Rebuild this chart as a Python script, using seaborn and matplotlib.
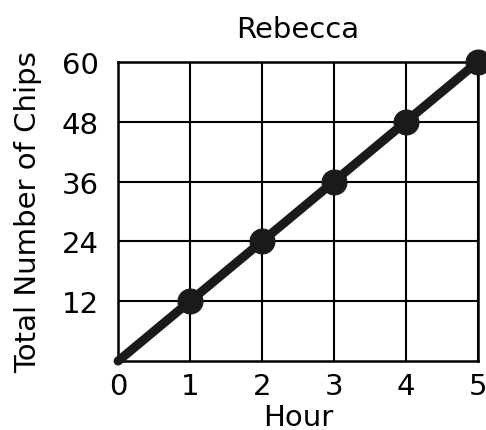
import matplotlib.pyplot as plt
import seaborn as sns
import pandas as pd

sns.set_style('white')
plt.rcParams['font.family'] = ['DejaVu Sans']

hours = [0, 1, 2, 3, 4, 5]
chips = [0, 12, 24, 36, 48, 60]
y_ticks = [12, 24, 36, 48, 60]

df = pd.DataFrame({'Hour': hours, 'Chips': chips})

fig = plt.figure(figsize=(4.86, 4.31), dpi=100)
ax = fig.add_axes([0.243, 0.160, 0.740, 0.694])

sns.lineplot(data=df, x='Hour', y='Chips', ax=ax, color='#1a1a1a', linewidth=6.5,
             marker='o', markersize=18, markeredgecolor='#1a1a1a',
             markevery=[1, 2, 3, 4, 5], clip_on=False, zorder=5)

ax.set_xlim(0, 5)
ax.set_ylim(0, 60)
ax.set_xticks(hours)
ax.set_yticks(y_ticks)
ax.grid(True, color='black', linewidth=1.5)
for s in ax.spines.values():
    s.set_color('black')
    s.set_linewidth(1.8)
ax.tick_params(length=0, labelsize=21, colors='black')
ax.tick_params(axis='y', pad=14)
ax.tick_params(axis='x', pad=8)
ax.set_xlabel('Hour', fontsize=21, labelpad=2, color='black')
ax.set_ylabel('Total Number of Chips', fontsize=21, labelpad=14, color='black')
ax.set_title('Rebecca', fontsize=21, pad=18, color='black')

fig.savefig('out.png', dpi=100)
